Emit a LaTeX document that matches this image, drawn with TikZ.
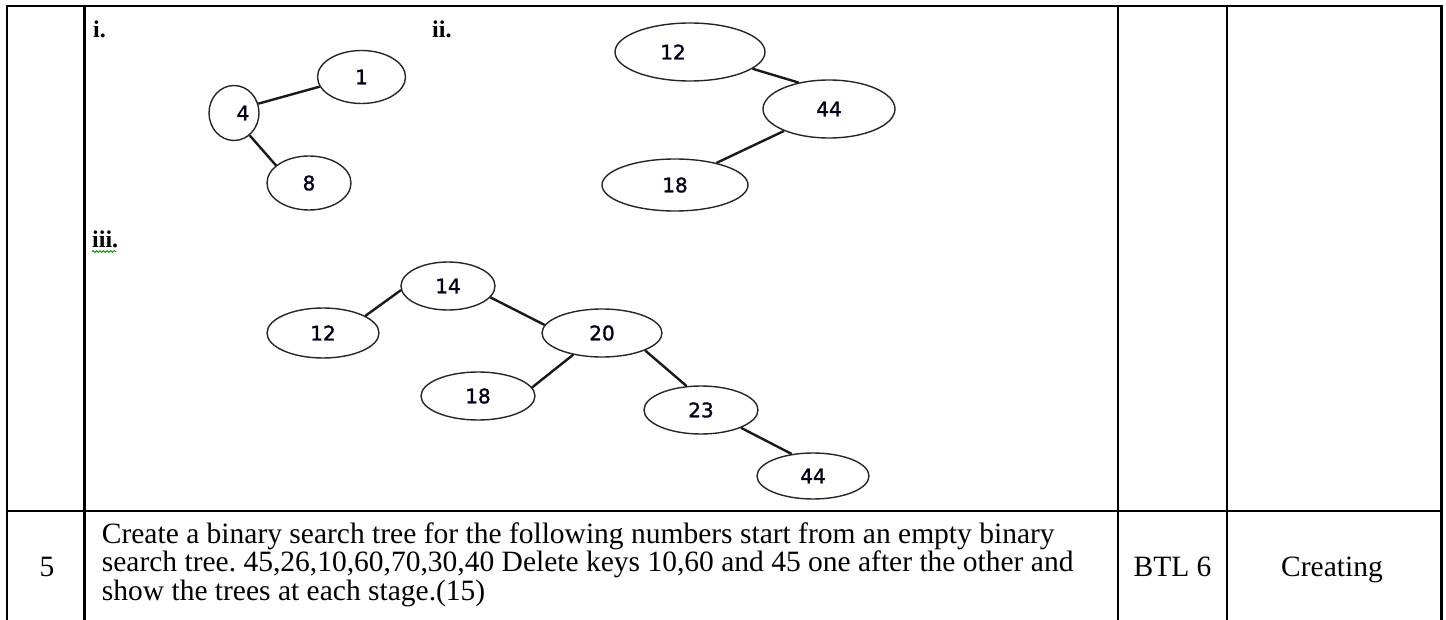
\documentclass[tikz,border=0pt]{standalone}
\usepackage{fontspec}
\setmainfont{Liberation Serif}
\newfontfamily\treefont[FakeBold=1.5]{DejaVu Sans}
\usetikzlibrary{shapes.geometric,decorations.pathmorphing}
\frenchspacing
\begin{document}
\begin{tikzpicture}[x=1pt,y=-1pt,
  rule/.style={line width=2.4pt, black},
  tn/.style={ellipse, draw=black!85, line width=1.4pt, inner sep=0pt,
    font=\treefont\fontsize{20}{20}\selectfont, text=black!90!blue},
  edge/.style={line width=2.4pt, black!90},
  rom/.style={font=\bfseries\fontsize{24}{24}\selectfont, anchor=base west, inner sep=0pt},
  body/.style={font=\fontsize{29.5}{28.7}\selectfont, inner sep=0pt}
]
\useasboundingbox (0,0) rectangle (1446,620);

% table rules
\draw[rule] (6,6) -- (1442.5,6);
\draw[rule] (7,6) -- (7,620);
\draw[rule] (84.5,6) -- (84.5,620);
\draw[rule] (1118,6) -- (1118,620);
\draw[rule] (1227,6) -- (1227,620);
\draw[rule] (1441.5,6) -- (1441.5,620);
\draw[rule] (7,511) -- (1442.5,511);

% labels
\node[rom] (li) at (93,38) {i.};
\node[rom] (lii) at (432,38) {ii.};
\node[rom] (liii) at (92,248) {iii.};
\draw[green!55!black, line width=0.8pt, decorate,
  decoration={snake, amplitude=0.9pt, segment length=3.5pt}] (92,251.5) -- (116,251.5);

% tree i
\node[tn, minimum width=88pt, minimum height=53pt] (a1) at (361.5,77) {1};
\node[tn, minimum width=50pt, minimum height=55pt] (a4) at (234,113) {\hspace*{18pt}4};
\node[tn, minimum width=84pt, minimum height=54pt] (a8) at (309,183) {8};
\draw[edge] (a4.21) -- (a1.193);
\draw[edge] (a4.-55) -- (a8.152);

% tree ii
\node[tn, minimum width=150pt, minimum height=58pt] (b12) at (690,52) {12\hspace*{34pt}};
\node[tn, minimum width=132pt, minimum height=58pt] (b44) at (829,109) {44};
\node[tn, minimum width=146pt, minimum height=52pt] (b18) at (675,185) {18};
\draw[edge] (b12.-15) -- (b44.139);
\draw[edge] (b44.206) -- (b18.28);

% tree iii
\node[tn, minimum width=94pt, minimum height=48pt] (c14) at (448,286) {14};
\node[tn, minimum width=112pt, minimum height=50pt] (c12) at (323,333) {12};
\node[tn, minimum width=120pt, minimum height=48pt] (c20) at (602,333) {20};
\node[tn, minimum width=114pt, minimum height=48pt] (c18) at (478,396) {18};
\node[tn, minimum width=114pt, minimum height=48pt] (c23) at (701,410) {23};
\node[tn, minimum width=112pt, minimum height=46pt] (c44) at (813,476) {44};
\draw[edge] (c14.185) -- (c12.22);
\draw[edge] (c14.-15) -- (c20.172);
\draw[edge] (c20.217) -- (c18.9);
\draw[edge] (c20.-22) -- (c23.121);
\draw[edge] (c23.-24) -- (c44.134);

% bottom row
\node[body, anchor=base] (num) at (47,576) {5};
\node[body, anchor=base west, align=left] (q) at (101.7,600.5)
  {Create a binary search tree for the following numbers start from an empty binary\\
   search tree. 45,26,10,60,70,30,40 Delete keys 10,60 and 45 one after the other and\\
   show the trees at each stage.(15)};
\node[body, anchor=base] (btl) at (1172.5,576) {BTL 6};
\node[body, anchor=base] (cr) at (1332,576) {Creating};
\end{tikzpicture}
\end{document}
